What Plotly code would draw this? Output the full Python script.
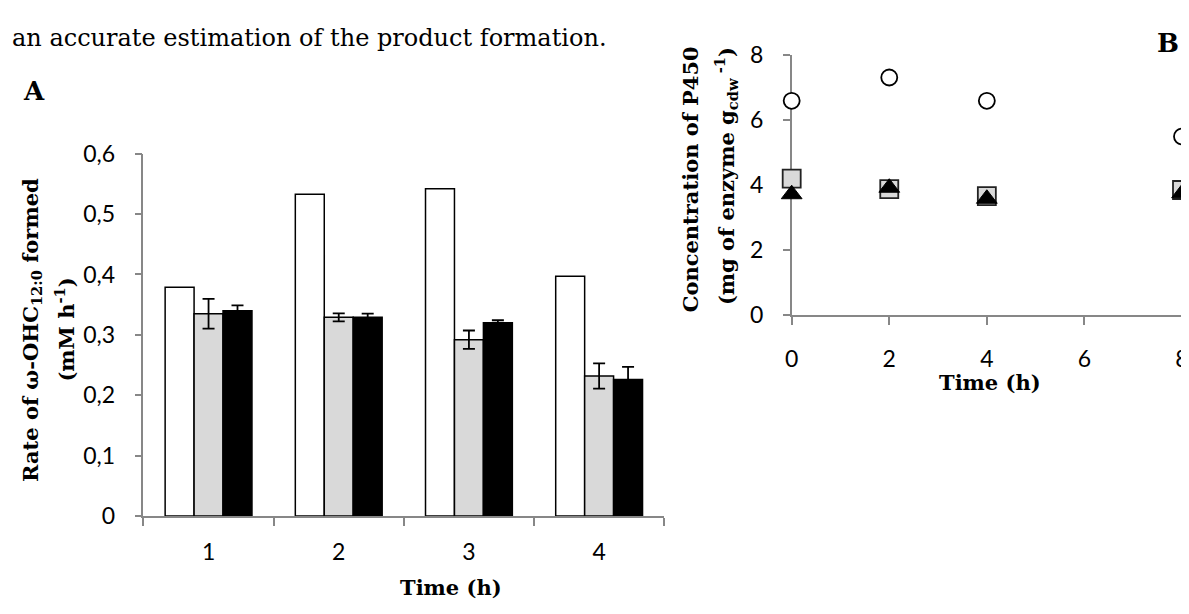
import plotly.graph_objects as go

# Browser body margin (8 px) offsets the figure; compensate so window positions match.
OFF = 8
FW, FH = 1189 - OFF, 614 - OFF

sentence = "an accurate estimation of the product formation."

# ---- Panel A data ----
a_categories = ["1", "2", "3", "4"]
a_white = [0.379, 0.533, 0.542, 0.397]
a_grey = [0.335, 0.329, 0.292, 0.232]
a_grey_err = [0.0245, 0.0066, 0.0153, 0.0208]
a_black = [0.340, 0.329, 0.320, 0.226]
a_black_err = [0.009, 0.0063, 0.0042, 0.021]
a_yticks = [0, 0.1, 0.2, 0.3, 0.4, 0.5, 0.6]
a_yticklabels = ["0", "0,1", "0,2", "0,3", "0,4", "0,5", "0,6"]
a_xtitle = "Time (h)"
a_ytitle_1 = "Rate of ω-OHC<sub>12:0</sub> formed"
a_ytitle_2 = "(mM h<sup>-1</sup>)"

# ---- Panel B data ----
b_time = [0, 2, 4, 8]
b_circle = [6.6, 7.32, 6.6, 5.5]
b_square = [4.2, 3.88, 3.66, 3.85]
b_triangle = [3.72, 3.92, 3.58, 3.75]
b_yticks = [0, 2, 4, 6, 8]
b_xticks = [0, 2, 4, 6, 8]
b_xtitle = "Time (h)"
b_ytitle_1 = "Concentration of P450"
b_ytitle_2 = "(mg of enzyme g<sub>cdw</sub><sup> -1</sup>)"


def px(x):
    return (x - OFF) / FW


def py(y):
    return 1 - (y - OFF) / FH


AXIS_COLOR = "#878787"
GREY = "#d9d9d9"
TICK_FONT = dict(family="Lato", size=23, color="black")
SERIF = "DejaVu Serif"

fig = go.Figure()

err_style = dict(type="data", color="black", thickness=1.8, width=6)

fig.add_trace(go.Bar(x=a_categories, y=a_white, marker=dict(color="white", line=dict(color="black", width=1.5)),
                     xaxis="x", yaxis="y", showlegend=False))
fig.add_trace(go.Bar(x=a_categories, y=a_grey, marker=dict(color=GREY, line=dict(color="black", width=1.5)),
                     error_y=dict(array=a_grey_err, **err_style), xaxis="x", yaxis="y", showlegend=False))
fig.add_trace(go.Bar(x=a_categories, y=a_black, marker=dict(color="black", line=dict(color="black", width=1.5)),
                     error_y=dict(array=a_black_err, **err_style), xaxis="x", yaxis="y", showlegend=False))

fig.add_trace(go.Scatter(x=b_time, y=b_circle, mode="markers", cliponaxis=False,
                         marker=dict(symbol="circle", size=16, color="white", line=dict(color="black", width=1.8)),
                         xaxis="x2", yaxis="y2", showlegend=False))
fig.add_trace(go.Scatter(x=b_time, y=b_square, mode="markers", cliponaxis=False,
                         marker=dict(symbol="square", size=18, color=GREY, line=dict(color="#222222", width=1.8)),
                         xaxis="x2", yaxis="y2", showlegend=False))
fig.add_trace(go.Scatter(x=b_time, y=b_triangle, mode="markers", cliponaxis=False,
                         marker=dict(symbol="triangle-up", size=18, color="black", line=dict(color="black", width=1)),
                         xaxis="x2", yaxis="y2", showlegend=False))

axis_common = dict(showgrid=False, zeroline=False, showline=True, linecolor=AXIS_COLOR, linewidth=1.5,
                   ticks="outside", tickcolor=AXIS_COLOR, tickwidth=1.5, tickfont=TICK_FONT)

annotations = []


def ann(text, x, y, size, bold=False, angle=0, xanchor="center", family=SERIF):
    annotations.append(dict(text=("<b>%s</b>" % text) if bold else text, x=px(x), y=py(y), xref="paper",
                            yref="paper", showarrow=False, xanchor=xanchor, yanchor="middle", textangle=angle,
                            font=dict(family=family, size=size, color="black")))


ann(sentence, 3, 24, 24, xanchor="left")
ann("A", 27, 79, 26, bold=True)
ann("B", 1175, 29, 26, bold=True)
ann(a_xtitle, 449, 600, 21, bold=True)
ann(a_ytitle_1, 24, 330, 21, bold=True, angle=-90)
ann(a_ytitle_2, 59, 329, 21, bold=True, angle=-90)
ann(b_xtitle, 995, 385, 21, bold=True)
ann(b_ytitle_1, 692, 172, 21, bold=True, angle=-90)
ann(b_ytitle_2, 727, 168, 21, bold=True, angle=-90)

fig.update_layout(
    width=FW, height=FH, margin=dict(l=0, r=0, t=0, b=0),
    paper_bgcolor="white", plot_bgcolor="white",
    barmode="group", bargap=0.333, bargroupgap=0,
    xaxis=dict(domain=[px(138), px(665)], anchor="y", type="category", tickson="boundaries", ticklen=8,
               ticklabelstandoff=15, **axis_common),
    yaxis=dict(domain=[py(525), py(145)], anchor="x", range=[0, 0.6], tickvals=a_yticks,
               ticktext=a_yticklabels, ticklen=7, ticklabelstandoff=15, **axis_common),
    xaxis2=dict(domain=[px(794), 1.0], anchor="y2", range=[0, 8], tickvals=b_xticks, ticklen=8,
                ticklabelstandoff=15, ticklabeloverflow="allow", layer="below traces", **axis_common),
    yaxis2=dict(domain=[py(314), py(42)], anchor="x2", range=[0, 8], tickvals=b_yticks, ticklen=7,
                ticklabelstandoff=15, layer="below traces", **axis_common),
    annotations=annotations,
)

fig.write_html("out.html")
